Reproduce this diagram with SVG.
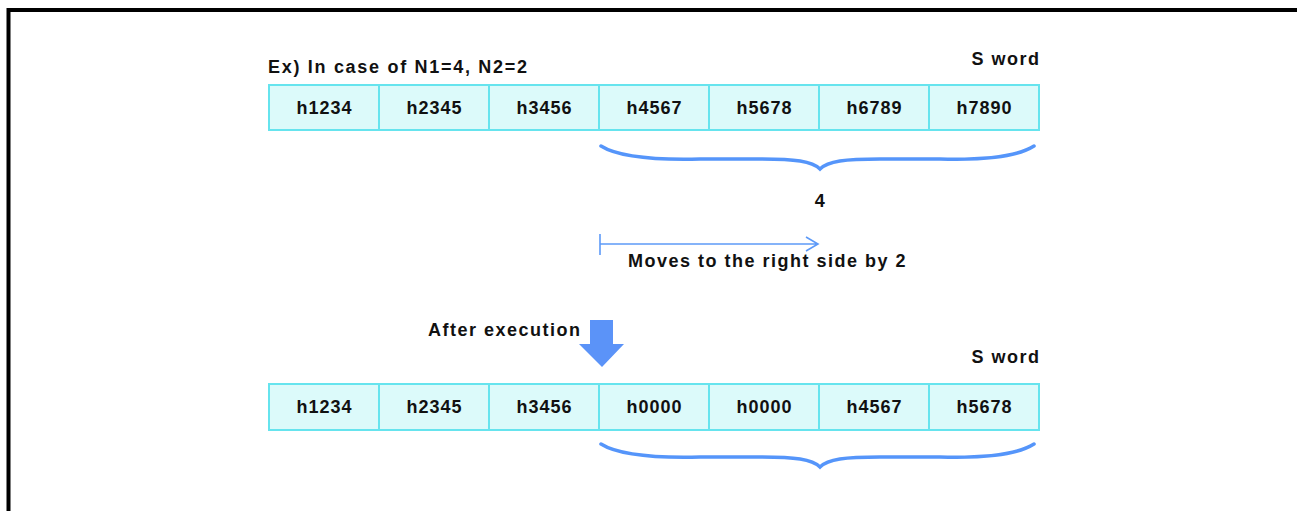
<svg xmlns="http://www.w3.org/2000/svg" width="1297" height="511" viewBox="0 0 1297 511">
<style>
.cell{fill:#dcfafa;stroke:#66e4ee;stroke-width:2}
.t{font-family:"Liberation Sans",Arial,sans-serif;font-weight:bold;font-size:18px;letter-spacing:1.5px;fill:#111}
.c{text-anchor:middle;letter-spacing:1px}
.brace{fill:none;stroke:#5595fa;stroke-width:3.5;stroke-linecap:round}
.thin{fill:none;stroke:#5d9af8;stroke-width:1.6}
</style>
<rect x="0" y="0" width="1297" height="511" fill="#fff"/>
<path d="M8.5,511 V10 H1297" fill="none" stroke="#000" stroke-width="4"/>
<text class="t" x="268" y="73" style="letter-spacing:1.7px">Ex) In case of N1=4, N2=2</text>
<text class="t" x="1040.5" y="65" text-anchor="end">S word</text>
<g id="row1">
<rect class="cell" x="269" y="85" width="110" height="45"/>
<rect class="cell" x="379" y="85" width="110" height="45"/>
<rect class="cell" x="489" y="85" width="110" height="45"/>
<rect class="cell" x="599" y="85" width="110" height="45"/>
<rect class="cell" x="709" y="85" width="110" height="45"/>
<rect class="cell" x="819" y="85" width="110" height="45"/>
<rect class="cell" x="929" y="85" width="110" height="45"/>
<text class="t c" x="324.5" y="114">h1234</text>
<text class="t c" x="434.5" y="114">h2345</text>
<text class="t c" x="544.5" y="114">h3456</text>
<text class="t c" x="654.5" y="114">h4567</text>
<text class="t c" x="764.5" y="114">h5678</text>
<text class="t c" x="874.5" y="114">h6789</text>
<text class="t c" x="984.5" y="114">h7890</text>
</g>
<g id="connectors">
<path class="brace" d="M601,146 C620,158 660,160 700,159 L760,159 C795,159 812,161 820,169 C828,161 845,159 880,159 L940,159 C980,160 1015,158 1034,146"/>
<path class="thin" d="M600,234 V255 M600,244 H818 M806,237 L818,244 L806,251"/>
<path d="M590,320 H613 V344 H624 L602,367 L579,344 H590 Z" fill="#5b93f8"/>
<path class="brace" d="M601,444 C620,456 660,458 700,457 L760,457 C795,457 812,459 820,467 C828,459 845,457 880,457 L940,457 C980,458 1015,456 1034,444"/>
</g>
<text class="t" x="820.5" y="207" text-anchor="middle">4</text>
<text class="t" x="628" y="267">Moves to the right side by 2</text>
<text class="t" x="428" y="336">After execution</text>
<text class="t" x="1040.5" y="363" text-anchor="end">S word</text>
<g id="row2">
<rect class="cell" x="269" y="384" width="110" height="46"/>
<rect class="cell" x="379" y="384" width="110" height="46"/>
<rect class="cell" x="489" y="384" width="110" height="46"/>
<rect class="cell" x="599" y="384" width="110" height="46"/>
<rect class="cell" x="709" y="384" width="110" height="46"/>
<rect class="cell" x="819" y="384" width="110" height="46"/>
<rect class="cell" x="929" y="384" width="110" height="46"/>
<text class="t c" x="324.5" y="413">h1234</text>
<text class="t c" x="434.5" y="413">h2345</text>
<text class="t c" x="544.5" y="413">h3456</text>
<text class="t c" x="654.5" y="413">h0000</text>
<text class="t c" x="764.5" y="413">h0000</text>
<text class="t c" x="874.5" y="413">h4567</text>
<text class="t c" x="984.5" y="413">h5678</text>
</g>
</svg>
